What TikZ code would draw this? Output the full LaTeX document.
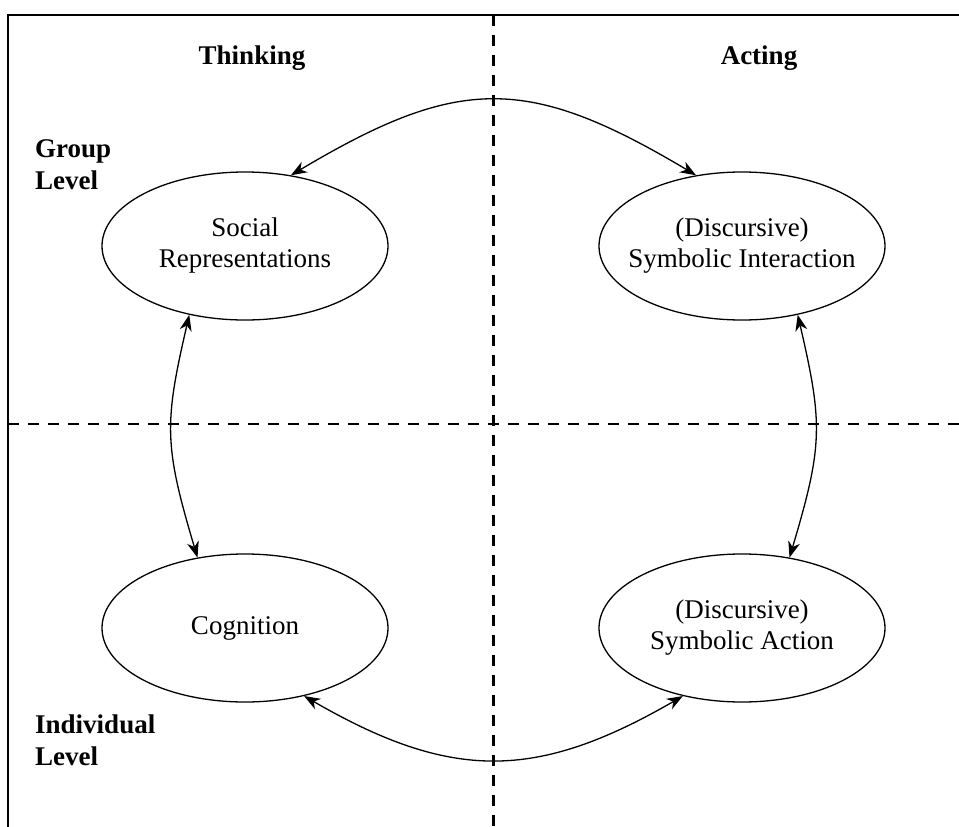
\documentclass[tikz,border=0pt]{standalone}
\usepackage{fontspec}
\setmainfont{Liberation Serif}
\usetikzlibrary{arrows.meta, shapes.geometric}

\begin{document}
\begin{tikzpicture}[
  x=1pt, y=-1pt,
  font=\fontsize{27}{31}\selectfont,
  el/.style={draw, ellipse, line width=1.3pt, minimum width=286pt, minimum height=148pt, inner xsep=-30pt, inner ysep=0pt, align=center},
  lvl/.style={font=\fontsize{27}{32}\selectfont\bfseries, inner sep=0pt},
  sep/.style={line width=2.2pt, dash pattern=on 11pt off 9pt},
  arr/.style={{Stealth[length=16pt,width=12pt,inset=5pt]}-{Stealth[length=16pt,width=12pt,inset=5pt]}, line width=1.3pt}
]
  \useasboundingbox (0,0) rectangle (959,827);
  % frame and quadrants
  \draw[line width=1.5pt] (959,15) -| (8,827);
  \draw[sep] (493.5,15) -- (493.5,827);
  \draw[sep] (8,424) -- (959,424);

  \node[lvl, anchor=base] (think) at (252,64) {Thinking};
  \node[lvl, anchor=base] (act) at (759,64) {Acting};
  \node[lvl, anchor=north west, align=left] (grp) at (35,139) {Group\\Level};
  \node[lvl, anchor=north west, align=left] (ind) at (35,715) {Individual\\Level};

  \node[el] (sr) at (245,246) {Social\\Representations};
  \node[el] (si) at (742,246) {(Discursive)\\Symbolic Interaction};
  \node[el] (cog) at (245,628) {Cognition};
  \node[el] (sa) at (742,628) {(Discursive)\\Symbolic Action};

  \draw[arr] (sr.57) .. controls (459,75) and (528,75) .. (si.123);
  \draw[arr] (sr.231) .. controls (164,424) and (164,445) .. (cog.124);
  \draw[arr] (si.309) .. controls (823,424) and (823,445) .. (sa.56);
  \draw[arr] (cog.311) .. controls (451,781) and (536,781) .. (sa.229);
\end{tikzpicture}
\end{document}
